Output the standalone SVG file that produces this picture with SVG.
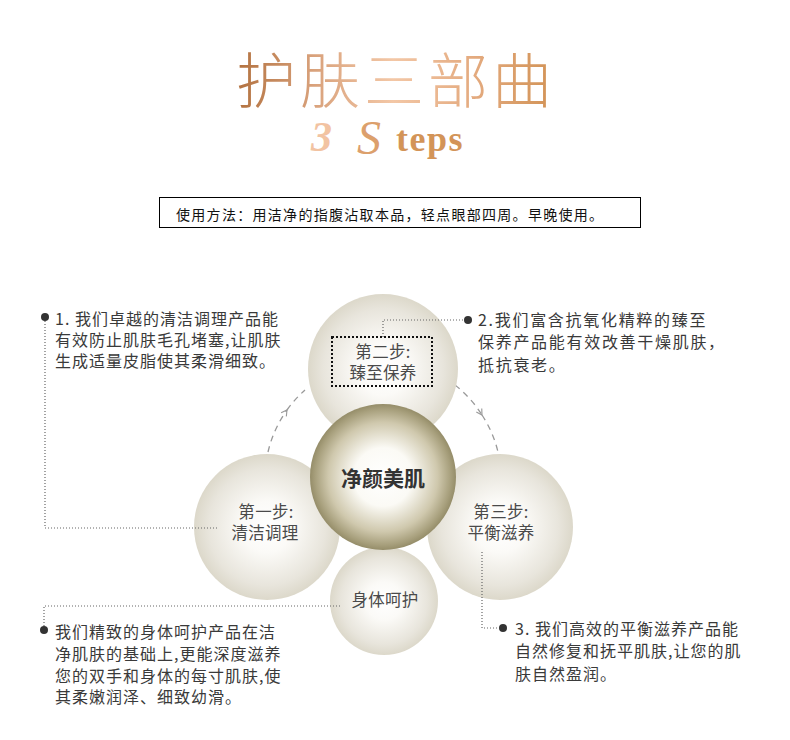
<svg xmlns="http://www.w3.org/2000/svg" width="790" height="740" viewBox="0 0 790 740">
<style>
.cjk{font-family:'Noto Sans CJK SC','Noto Sans',sans-serif;}
.body{font-size:16px;fill:#3a3a3a;letter-spacing:1px;}
.lbl{font-size:16.5px;fill:#4a4a4a;text-anchor:middle;letter-spacing:0.3px;}
.dot{fill:none;stroke:#666;stroke-width:1.2;stroke-dasharray:1 2;}
.arc{fill:none;stroke:#999;stroke-width:1.3;stroke-dasharray:6 5;}
.bul{fill:#333;}
</style>
<defs>
<linearGradient id="tg" gradientUnits="userSpaceOnUse" x1="236" y1="0" x2="550" y2="0">
<stop offset="0" stop-color="#b2713f"/>
<stop offset="0.25" stop-color="#d9a27c"/>
<stop offset="0.5" stop-color="#f3c7a6"/>
<stop offset="0.75" stop-color="#e4ab80"/>
<stop offset="1" stop-color="#d39458"/>
</linearGradient>
<radialGradient id="pg" cx="0.5" cy="0.5" r="0.5">
<stop offset="0" stop-color="#ffffff"/>
<stop offset="0.35" stop-color="#fbfaf7"/>
<stop offset="0.8" stop-color="#e8e5dc"/>
<stop offset="1" stop-color="#dcd8ca"/>
</radialGradient>
<radialGradient id="cg" cx="0.5" cy="0.5" r="0.5">
<stop offset="0" stop-color="#ffffff"/>
<stop offset="0.4" stop-color="#fbfaf5"/>
<stop offset="0.75" stop-color="#cfc8ad"/>
<stop offset="0.93" stop-color="#a79f7c"/>
<stop offset="1" stop-color="#958d69"/>
</radialGradient>
<marker id="arr" viewBox="0 0 10 10" refX="8" refY="5" markerWidth="8" markerHeight="8" markerUnits="userSpaceOnUse" orient="auto">
<path d="M1,1 L8,5 L1,9" fill="none" stroke="#999" stroke-width="1.4"/>
</marker>
</defs>
<rect width="790" height="740" fill="#ffffff"/>

<g id="title">
<text x="236" y="103" class="cjk" font-size="60" font-weight="300" letter-spacing="4" fill="url(#tg)">护肤三部曲</text>
<text x="311" y="151" font-family="'Liberation Serif',serif" font-style="italic" font-weight="bold" font-size="42" fill="#f2c3a2">3</text>
<text x="357" y="154" font-family="'Liberation Serif',serif" font-style="italic" font-size="48" fill="#dca06c">S</text>
<text x="396" y="151" font-family="'Liberation Serif',serif" font-weight="bold" font-size="36" letter-spacing="1.5" fill="#d39458">teps</text>
</g>

<g id="usage">
<rect x="159.5" y="197.5" width="481" height="30" fill="#fff" stroke="#000" stroke-width="1"/>
<text x="176" y="220" class="cjk" font-size="14" letter-spacing="1.3" fill="#111">使用方法：用洁净的指腹沾取本品，轻点眼部四周。早晚使用。</text>
</g>

<g id="connectors">
<path class="arc" d="M268,452 A117,117 0 0 1 287,410" marker-end="url(#arr)"/>
<path class="arc" d="M287,410 A117,117 0 0 1 305,390"/>
<path class="arc" d="M455,385 A117,117 0 0 1 482,415" marker-end="url(#arr)"/>
<path class="arc" d="M482,415 A117,117 0 0 1 498,452"/>
</g>

<g id="step2">
<circle cx="383" cy="369" r="75" fill="url(#pg)"/>
<rect x="332" y="337" width="100" height="49" fill="none" stroke="#111" stroke-width="2" stroke-dasharray="2 2"/>
<text x="383" y="358" class="cjk lbl">第二步:</text>
<text x="383" y="379" class="cjk lbl">臻至保养</text>
</g>
<g id="step1">
<circle cx="267" cy="527" r="73" fill="url(#pg)"/>
<text x="266" y="518" class="cjk lbl">第一步:</text>
<text x="265" y="539" class="cjk lbl">清洁调理</text>
</g>
<g id="step3">
<circle cx="500" cy="527" r="73" fill="url(#pg)"/>
<text x="501" y="518" class="cjk lbl">第三步:</text>
<text x="501" y="539" class="cjk lbl">平衡滋养</text>
</g>
<g id="body">
<circle cx="384" cy="601" r="54" fill="url(#pg)"/>
<text x="385" y="606" class="cjk lbl">身体呵护</text>
</g>
<g id="center">
<circle cx="383" cy="477" r="73" fill="url(#cg)"/>
<text x="383" y="486" class="cjk" font-size="21" font-weight="bold" fill="#333" text-anchor="middle">净颜美肌</text>
</g>

<g id="leaders">
<path class="dot" d="M45,321 V528 H218"/>
<path class="dot" d="M383,337 V320 H464"/>
<path class="dot" d="M482,552 V628 H499"/>
<path class="dot" d="M340,606 H44 V626"/>
<circle class="bul" cx="45" cy="317" r="4"/>
<circle class="bul" cx="468" cy="320" r="4"/>
<circle class="bul" cx="503" cy="628" r="4"/>
<circle class="bul" cx="44" cy="630" r="4"/>
</g>

<g id="text1" class="cjk body">
<text x="55" y="325">1. 我们卓越的清洁调理产品能</text>
<text x="55" y="346">有效防止肌肤毛孔堵塞,让肌肤</text>
<text x="55" y="367">生成适量皮脂使其柔滑细致。</text>
</g>
<g id="text2" class="cjk body" style="letter-spacing:1.7px">
<text x="478" y="326">2.我们富含抗氧化精粹的臻至</text>
<text x="478" y="348">保养产品能有效改善干燥肌肤，</text>
<text x="478" y="371">抵抗衰老。</text>
</g>
<g id="text3" class="cjk body">
<text x="515" y="635">3. 我们高效的平衡滋养产品能</text>
<text x="515" y="657">自然修复和抚平肌肤,让您的肌</text>
<text x="515" y="680">肤自然盈润。</text>
</g>
<g id="text4" class="cjk body">
<text x="55" y="638">我们精致的身体呵护产品在洁</text>
<text x="55" y="660">净肌肤的基础上,更能深度滋养</text>
<text x="55" y="682">您的双手和身体的每寸肌肤,使</text>
<text x="55" y="703">其柔嫩润泽、细致幼滑。</text>
</g>
</svg>
